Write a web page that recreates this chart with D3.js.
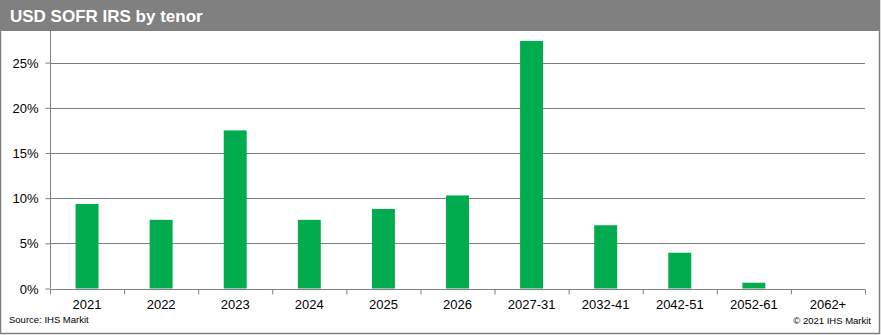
<!DOCTYPE html>
<html>
<head>
<meta charset="utf-8">
<script src="https://d3js.org/d3.v7.min.js"></script>
<style>
    body { margin: 0; background: #fff; }
    text { font-family: Arial, 'Liberation Sans', sans-serif; }
</style>
</head>
<body>
<svg id="chart" width="881" height="335"></svg>
<script>
    var tenors = ["2021", "2022", "2023", "2024", "2025", "2026", "2027-31", "2032-41", "2042-51", "2052-61", "2062+"];
    var shares = [0.0935, 0.076, 0.175, 0.076, 0.088, 0.103, 0.274, 0.070, 0.0396, 0.0064, 0];
    var yTicks = [0, 0.05, 0.10, 0.15, 0.20, 0.25];

    var svg = d3.select("#chart");
    var width = 881, height = 335;
    var plotLeft = 50, plotRight = 865, plotTop = 31, plotBottom = 288.5;

    // frame + header
    svg.append("rect").attr("x", 0.5).attr("y", 0.5).attr("width", width - 2).attr("height", height - 2)
        .attr("fill", "#fff").attr("stroke", "#808080").attr("stroke-width", 1.5);
    svg.append("rect").attr("x", 0).attr("y", 0).attr("width", width - 1).attr("height", 31).attr("fill", "#808080");
    svg.append("text").attr("x", 10).attr("y", 22).attr("fill", "#fff")
        .style("font-size", "17px").style("font-weight", "bold").text("USD SOFR IRS by tenor");

    var x = d3.scaleBand().domain(tenors).range([plotLeft, plotRight]).paddingInner(0.69).paddingOuter(0.345);
    var xTick = d3.scaleBand().domain(tenors).range([plotLeft, plotRight]);
    var y = d3.scaleLinear().domain([0, 0.285]).range([plotBottom, plotTop]);

    // gridlines
    svg.append("g").selectAll("line").data(yTicks.slice(1)).join("line")
        .attr("x1", plotLeft).attr("x2", plotRight)
        .attr("y1", d => Math.round(y(d)) + 0.5).attr("y2", d => Math.round(y(d)) + 0.5)
        .attr("stroke", "#808080").attr("stroke-width", 1);

    // bars
    svg.append("g").selectAll("rect").data(shares).join("rect")
        .attr("x", (d, i) => x(tenors[i]))
        .attr("width", x.bandwidth())
        .attr("y", d => y(d))
        .attr("height", d => plotBottom - y(d))
        .attr("fill", "#00ac4e");

    // y axis
    var yAxis = d3.axisLeft(y).tickValues(yTicks).tickFormat(d3.format(".0%")).tickSize(5).tickSizeOuter(0);
    var gy = svg.append("g").attr("transform", "translate(" + (plotLeft + 0.5) + ",0)").call(yAxis);
    gy.select(".domain").attr("stroke", "#808080").attr("d", "M0," + plotTop + "V" + plotBottom);
    gy.selectAll(".tick line").attr("stroke", "#808080");
    gy.selectAll(".tick text").attr("x", -12).attr("dy", "0.35em").style("font-size", "13px").attr("fill", "#000")
        .style("font-family", "Arial, 'Liberation Sans', sans-serif");

    // x axis
    var gx = svg.append("g").attr("transform", "translate(0," + (Math.round(plotBottom) + 0.5) + ")");
    gx.append("line").attr("x1", plotLeft).attr("x2", plotRight).attr("stroke", "#808080");
    gx.selectAll("line.tk").data(tenors.concat(["end"])).join("line").attr("class", "tk")
        .attr("x1", (d, i) => xTick(tenors[0]) + i * xTick.bandwidth() + 0.5)
        .attr("x2", (d, i) => xTick(tenors[0]) + i * xTick.bandwidth() + 0.5)
        .attr("y1", 0).attr("y2", 5).attr("stroke", "#808080");
    gx.selectAll("text").data(tenors).join("text")
        .attr("x", d => xTick(d) + xTick.bandwidth() / 2)
        .attr("y", 19).attr("text-anchor", "middle")
        .style("font-size", "13px").attr("fill", "#000").text(d => d);

    // footer
    svg.append("text").attr("x", 9).attr("y", 323).style("font-size", "9.5px").attr("fill", "#000").text("Source: IHS Markit");
    svg.append("text").attr("x", 871).attr("y", 324).attr("text-anchor", "end").style("font-size", "9.5px").attr("fill", "#000").text("\u00a9 2021 IHS Markit");
</script>
</body>
</html>
